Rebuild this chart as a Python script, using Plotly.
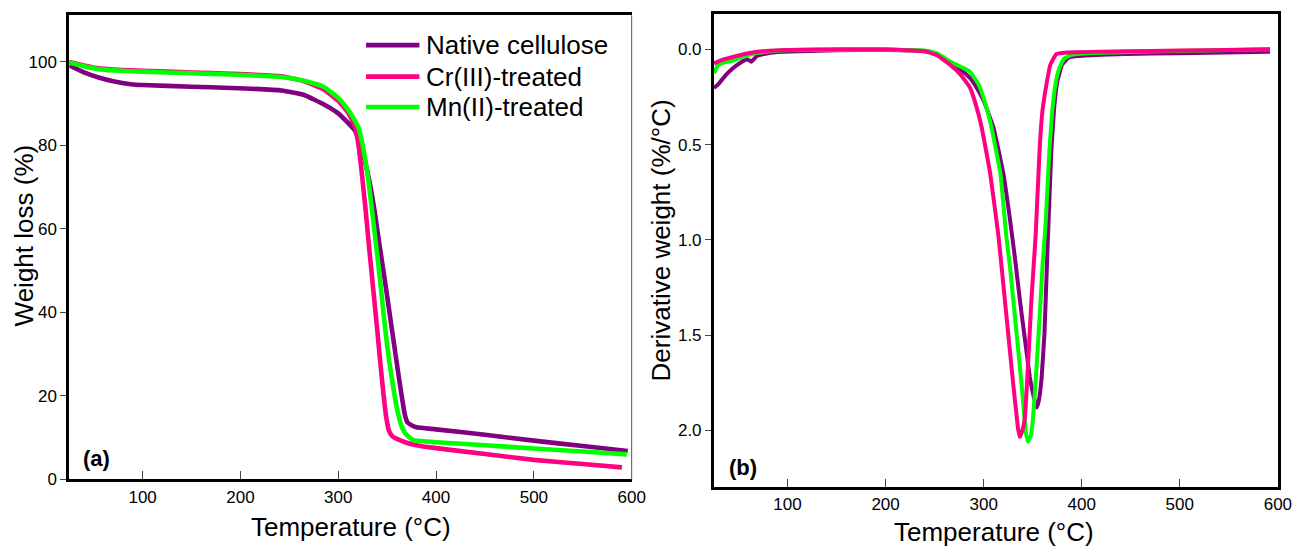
import plotly.graph_objects as go

# ---------------- Data ----------------
series_names = ["Native cellulose", "Cr(III)-treated", "Mn(II)-treated"]
series_colors = ["#800080", "#FF0080", "#00FF00"]

# (a) TGA: weight (%) vs temperature (°C)
T_native_tga = [25, 40, 55, 70, 88, 100, 150, 190, 242, 265, 285, 300, 308, 317, 323, 328, 333, 337, 341,
                345, 349, 353, 357, 361, 365, 368, 371, 375, 380, 400, 450, 500, 550, 596]
W_native_tga = [99.1, 97.4, 96.2, 95.3, 94.6, 94.4, 94.0, 93.7, 93.1, 92.0, 89.8, 87.6, 85.8, 83.5, 79.8, 75.5,
                70.0, 64.5, 58.0, 51.8, 45.5, 39.0, 32.5, 26.0, 19.8, 15.6, 13.6, 13.0, 12.5, 12.0, 10.7, 9.3,
                8.0, 6.8]

T_cr_tga = [25, 40, 55, 70, 88, 100, 150, 190, 242, 265, 285, 300, 310, 317, 321, 324, 328, 332, 336, 340,
            343, 346, 349, 352, 356, 360, 370, 380, 400, 450, 500, 550, 590]
W_cr_tga = [99.9, 99.1, 98.4, 98.1, 97.9, 97.8, 97.4, 97.1, 96.5, 95.3, 93.4, 90.6, 87.8, 84.5, 79.5, 73.5,
            64.5, 54.5, 45.0, 35.5, 28.0, 21.0, 15.0, 11.6, 10.2, 9.7, 8.8, 8.2, 7.5, 6.1, 4.7, 3.7, 2.9]

T_mn_tga = [25, 40, 55, 70, 88, 100, 150, 190, 242, 265, 285, 300, 310, 316, 321, 325, 330, 334, 338, 341,
            344, 348, 352, 355, 358, 362, 366, 370, 377, 390, 400, 450, 500, 550, 595]
W_mn_tga = [99.8, 98.9, 98.2, 97.9, 97.7, 97.6, 97.2, 96.9, 96.3, 95.4, 94.0, 91.3, 88.5, 86.3, 84.0, 80.0,
            73.0, 65.5, 57.5, 51.5, 45.0, 36.0, 28.5, 24.0, 19.5, 15.0, 12.0, 10.6, 9.4, 9.1, 8.9, 8.2, 7.4,
            6.7, 6.0]

# (b) DTG: derivative weight (%/°C) vs temperature (°C)
T_native_dtg = [25, 30, 37, 44, 52, 59, 63, 69, 80, 95, 150, 200, 230, 246, 258, 266, 276, 286, 291, 300,
                310, 320, 327, 332, 337, 341, 344, 347, 350, 354, 356, 359, 362, 365, 369, 372, 375, 380, 386,
                395, 420, 470, 530, 592]
D_native_dtg = [0.203, 0.18, 0.135, 0.10, 0.07, 0.052, 0.065, 0.034, 0.02, 0.013, 0.005, 0.003, 0.006, 0.013,
                0.04, 0.07, 0.105, 0.15, 0.186, 0.27, 0.41, 0.65, 0.90, 1.10, 1.32, 1.48, 1.60, 1.72, 1.80,
                1.88, 1.85, 1.73, 1.49, 1.06, 0.53, 0.30, 0.17, 0.08, 0.045, 0.035, 0.028, 0.022, 0.018,
                0.013]

T_cr_dtg = [25, 32, 44, 60, 78, 100, 150, 200, 240, 252, 266, 276, 286, 292, 298, 306.6, 315, 319, 323.4,
            330, 335, 336.8, 339, 341.9, 345.2, 348.6, 353, 357, 360, 363.8, 368, 374, 385, 420, 470, 530, 592]
D_cr_dtg = [0.074, 0.058, 0.04, 0.02, 0.008, 0.003, 0.0, 0.0, 0.01, 0.03, 0.082, 0.13, 0.20, 0.29, 0.41,
            0.65, 0.977, 1.18, 1.41, 1.75, 1.99, 2.035, 2.01, 1.94, 1.66, 1.32, 0.977, 0.53, 0.32, 0.19, 0.08,
            0.025, 0.016, 0.012, 0.008, 0.004, 0.0]

T_mn_dtg = [25, 29, 36, 44, 60, 78, 100, 150, 200, 240, 252, 266, 276, 286, 295, 302, 308, 317, 323, 327,
            332, 338.5, 343, 345.2, 348, 350.3, 354, 357, 360.3, 363, 367, 370, 373, 377, 382, 390, 420, 480,
            540, 592]
D_mn_dtg = [0.125, 0.083, 0.068, 0.06, 0.03, 0.013, 0.005, 0.002, 0.002, 0.006, 0.02, 0.065, 0.09, 0.117,
            0.186, 0.29, 0.41, 0.65, 0.977, 1.15, 1.41, 1.75, 2.01, 2.06, 2.03, 1.94, 1.66, 1.41, 1.11, 0.93,
            0.53, 0.32, 0.19, 0.10, 0.048, 0.028, 0.018, 0.01, 0.005, 0.0]

x_ticks = [100, 200, 300, 400, 500, 600]
y_ticks_a = [0, 20, 40, 60, 80, 100]
y_ticks_b = [0.0, 0.5, 1.0, 1.5, 2.0]

FONT = "Liberation Sans, Arial, sans-serif"

# ---------------- Figure ----------------
# Positions below are given in reference-image pixels (1309 x 554) and turned into paper fractions.
RW, RH = 1309, 554


def px_x(p):
    return p / RW


def px_y(p):
    return 1 - p / RH


fig = go.Figure()

tga = [(T_native_tga, W_native_tga), (T_cr_tga, W_cr_tga), (T_mn_tga, W_mn_tga)]
dtg = [(T_native_dtg, D_native_dtg), (T_mn_dtg, D_mn_dtg), (T_cr_dtg, D_cr_dtg)]
dtg_idx = [0, 2, 1]

for i, (tx, ty) in enumerate(tga):
    fig.add_trace(go.Scatter(x=tx, y=ty, mode="lines", name=series_names[i], showlegend=False,
                             line=dict(color=series_colors[i], width=4.6, shape="spline", smoothing=0.4),
                             xaxis="x", yaxis="y"))
for k, (tx, ty) in enumerate(dtg):
    i = dtg_idx[k]
    fig.add_trace(go.Scatter(x=tx, y=ty, mode="lines", name=series_names[i], showlegend=False,
                             line=dict(color=series_colors[i], width=4, shape="spline", smoothing=0.3),
                             xaxis="x2", yaxis="y2"))

dom_xa = [px_x(70), px_x(638.5)]
dom_ya = [px_y(488.3), px_y(15.5)]
dom_xb = [px_x(721.7), px_x(1291.7)]
dom_yb = [px_y(496), px_y(14)]

tickfont = dict(family=FONT, size=17, color="#000")
common_x = dict(range=[25, 600], tickvals=x_ticks, ticks="inside", ticklen=8, tickwidth=1,
                tickcolor="#444", showline=True, linewidth=3, linecolor="#000", mirror=True,
                showgrid=False, zeroline=False, tickfont=tickfont)
common_y = dict(ticks="outside", ticklen=6, tickwidth=1, tickcolor="#444", showline=True, linewidth=3,
                linecolor="#000", showgrid=False, zeroline=False, tickfont=tickfont)

fig.update_layout(
    width=RW, height=RH,
    margin=dict(l=0, r=0, t=0, b=0),
    paper_bgcolor="white", plot_bgcolor="white",
    font=dict(family=FONT, color="#000"),
    hovermode=False,
    xaxis=dict(domain=dom_xa, anchor="y", **common_x),
    yaxis=dict(domain=dom_ya, anchor="x", range=[0, 111.1], tickvals=y_ticks_a, **common_y),
    xaxis2=dict(domain=dom_xb, anchor="y2", **common_x),
    yaxis2=dict(domain=dom_yb, anchor="x2", range=[2.298, -0.187], tickvals=y_ticks_b,
                tickformat=".1f", mirror=True, **common_y),
    # overlay axes giving the inner half of the crossing y ticks
    yaxis3=dict(overlaying="y", anchor="x", range=[0, 111.1], tickvals=y_ticks_a, ticks="inside",
                ticklen=6, tickwidth=1, tickcolor="#444", showticklabels=False, showline=False,
                showgrid=False, zeroline=False),
    yaxis4=dict(overlaying="y2", anchor="x2", range=[2.298, -0.187], tickvals=y_ticks_b, ticks="inside",
                ticklen=6, tickwidth=1, tickcolor="#444", showticklabels=False, showline=False,
                showgrid=False, zeroline=False),
    showlegend=False,
)

# thin right border for panel (a)
fig.add_shape(type="line", xref="x domain", yref="y domain", x0=1, x1=1, y0=0, y1=1,
              line=dict(color="#555", width=1))

# legend (swatch + label) for panel (a)
legend_rows_px = [46, 78, 109]
for i, name in enumerate(series_names):
    yp = px_y(legend_rows_px[i])
    fig.add_shape(type="line", xref="paper", yref="paper", x0=px_x(370), x1=px_x(424), y0=yp, y1=yp,
                  line=dict(color=series_colors[i], width=4.6))
    fig.add_annotation(text=name, x=px_x(429), y=yp, xref="paper", yref="paper", xanchor="left",
                       yanchor="middle", showarrow=False,
                       font=dict(family=FONT, size=26, color="#000"))

ann = [
    dict(text="Weight loss (%)", x=24, y=240, textangle=-90, size=26),
    dict(text="Temperature (°C)", x=355, y=537, textangle=0, size=26),
    dict(text="Derivative weight (%/°C)", x=668, y=245, textangle=-90, size=26),
    dict(text="Temperature (°C)", x=1005, y=542, textangle=0, size=26),
    dict(text="<b>(a)</b>", x=98, y=467, textangle=0, size=22),
    dict(text="<b>(b)</b>", x=751, y=476, textangle=0, size=22),
]
for a in ann:
    fig.add_annotation(text=a["text"], x=px_x(a["x"]), y=px_y(a["y"]), xref="paper", yref="paper",
                       xanchor="center", yanchor="middle", showarrow=False, textangle=a["textangle"],
                       font=dict(family=FONT, size=a["size"], color="#000"))

fig.write_html(
    "out.html",
    config={"displayModeBar": False, "staticPlot": True, "responsive": False},
    post_script=("document.documentElement.style.margin='0px';"
                 "document.documentElement.style.overflow='hidden';"
                 "document.body.style.margin='0px';document.body.style.padding='0px';"
                 "document.body.style.overflow='hidden';"),
)
